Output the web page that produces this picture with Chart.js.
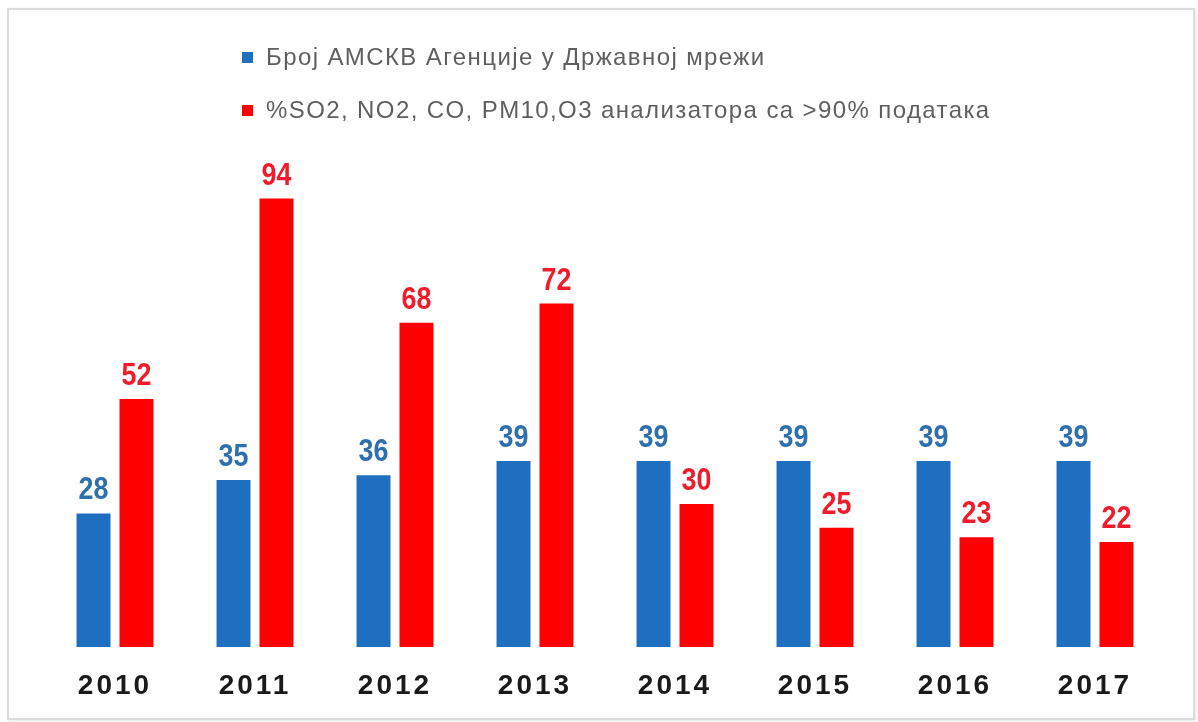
<!DOCTYPE html>
<html>
<head>
<meta charset="utf-8">
<script src="https://cdn.jsdelivr.net/npm/chart.js@4"></script>
<style>
    body { margin: 0; background: #fff; }
    #wrap { position: relative; width: 1198px; height: 722px; }
    #frame {
        position: absolute; left: 7px; top: 8px; width: 1184px; height: 708px;
        border: 2px solid #dcdcdc; box-shadow: 1px 1px 3px #e6e6e6; pointer-events: none;
    }
</style>
</head>
<body>
<div id="wrap">
    <canvas id="myChart" width="1198" height="722"></canvas>
    <div id="frame"></div>
</div>
<script>
const godine = ["2010", "2011", "2012", "2013", "2014", "2015", "2016", "2017"]
const brojStanica = [28, 35, 36, 39, 39, 39, 39, 39]
const procenatAnalizatora = [52, 94, 68, 72, 30, 25, 23, 22]
const nazivPlava = "Број АМСКВ Агенције у Државној мрежи"
const nazivCrvena = "%SO2, NO2, CO, PM10,O3 анализатора са >90% података"

const plava = "#1f6fc0"
const crvena = "#ff0000"

// razmak slova za godine na x osi, pa vracamo na 0 za ostalo
const razmakSlova = {
    id: "razmakSlova",
    beforeDraw(chart) { chart.ctx.letterSpacing = "3px" },
    beforeDatasetsDraw(chart) { chart.ctx.letterSpacing = "0px" }
}

// brojevi iznad stubova, malo suzeni
const vrednosti = {
    id: "vrednosti",
    afterDatasetsDraw(chart) {
        const ctx = chart.ctx
        chart.data.datasets.forEach((ds, i) => {
            chart.getDatasetMeta(i).data.forEach((bar, j) => {
                ctx.save()
                ctx.font = "bold 32px 'Liberation Sans', Arial, sans-serif"
                ctx.textAlign = "center"
                ctx.textBaseline = "alphabetic"
                ctx.fillStyle = ds.labelColor
                ctx.translate(bar.x, bar.y - 14)
                ctx.scale(0.84, 1)
                ctx.fillText(ds.data[j], 0, 0)
                ctx.restore()
            })
        })
    }
}

const legenda = {
    id: "legenda",
    afterDraw(chart) {
        const ctx = chart.ctx
        ctx.save()
        ctx.font = "24px 'Liberation Sans', Arial, sans-serif"
        ctx.letterSpacing = "1.4px"
        ctx.textBaseline = "middle"
        chart.data.datasets.forEach((ds, i) => {
            const y = 58 + i * 53
            ctx.fillStyle = ds.backgroundColor
            ctx.fillRect(242, y - 6, 11, 11)
            ctx.fillStyle = "#5f5f5f"
            ctx.fillText(ds.label, 266, y)
        })
        ctx.restore()
    }
}

const grafica = new Chart(document.querySelector("#myChart"), {
    type: "bar",
    data: {
        labels: godine,
        datasets: [{
            label: nazivPlava,
            data: brojStanica,
            backgroundColor: plava,
            labelColor: "#2e6fae"
        }, {
            label: nazivCrvena,
            data: procenatAnalizatora,
            backgroundColor: crvena,
            labelColor: "#f01c2c"
        }]
    },
    options: {
        responsive: false,
        animation: false,
        layout: { padding: { left: 45, right: 33, top: 170, bottom: 5 } },
        categoryPercentage: 0.614,
        barPercentage: 0.79,
        plugins: {
            legend: { display: false },
            tooltip: { enabled: false }
        },
        scales: {
            x: {
                grid: { display: false },
                border: { display: false },
                ticks: {
                    padding: 17,
                    color: "#1a1a1a",
                    font: { family: "'Liberation Sans', Arial, sans-serif", size: 28, weight: "bold", lineHeight: 1 }
                }
            },
            y: { display: false, min: 0, max: 100 }
        }
    },
    plugins: [razmakSlova, vrednosti, legenda]
})
</script>
</body>
</html>
